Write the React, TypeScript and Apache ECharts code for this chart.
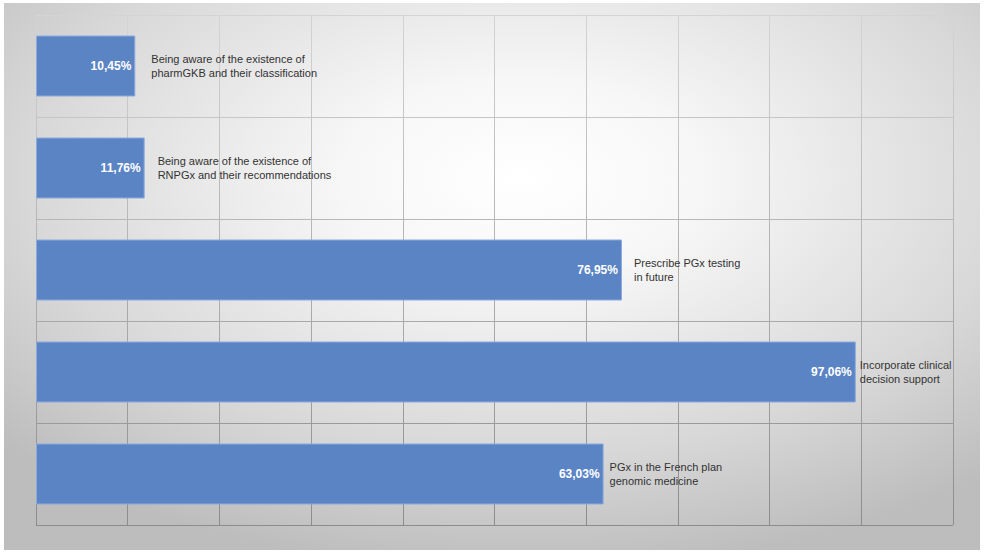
import React, { useEffect, useRef } from "react";
import * as echarts from "echarts";

// Category texts (top to bottom)
const categories = [
  "Being aware of the existence of\npharmGKB and their classification",
  "Being aware of the existence of\nRNPGx and their recommendations",
  "Prescribe PGx testing\nin future",
  "Incorporate clinical\ndecision support",
  "PGx in the French plan\ngenomic medicine",
];
// Printed percentages
const valueLabels = ["10,45%", "11,76%", "76,95%", "97,06%", "63,03%"];
// Bar lengths as drawn on the 0–100 grid of the picture
const barLengths = [10.83, 11.85, 63.9, 89.4, 61.9];
// Gap between bar end and category text (px)
const labelGaps = [16, 13, 12, 4, 6];
// Value-axis ticks
const axisMin = 0;
const axisMax = 100;
const axisStep = 10;

export default function App() {
  const ref = useRef<HTMLDivElement>(null);
  useEffect(() => {
    if (!ref.current) return;
    const chart = echarts.init(ref.current, undefined, { renderer: "svg" });
    const lineGrad = new echarts.graphic.LinearGradient(0, 15, 0, 525, [
      { offset: 0, color: "#d4d4d4" },
      { offset: 1, color: "#8c8c8c" },
    ], true);
    chart.setOption({
      animation: false,
      graphic: [
        {
          type: "rect",
          z: -10,
          silent: true,
          shape: { x: 4, y: 3, width: 976, height: 547 },
          style: {
            fill: new echarts.graphic.RadialGradient(0.53, 0.32, 0.72, [
              { offset: 0, color: "#ffffff" },
              { offset: 0.25, color: "#f7f7f7" },
              { offset: 0.7, color: "#d8d8d8" },
              { offset: 1, color: "#bdbdbd" },
            ]),
          },
        },
      ],
      grid: { left: 36, right: 31, top: 15, bottom: 28, containLabel: false },
      xAxis: {
        type: "value",
        min: axisMin,
        max: axisMax,
        interval: axisStep,
        axisLabel: { show: false },
        axisLine: { show: false },
        axisTick: { show: false },
        splitLine: { show: true, showMinLine: true, showMaxLine: true, lineStyle: { color: lineGrad, width: 1 } },
      },
      yAxis: {
        type: "category",
        inverse: true,
        data: categories,
        axisLabel: { show: false },
        axisLine: { show: false },
        axisTick: { show: false },
        splitLine: { show: true, lineStyle: { color: lineGrad, width: 1 } },
      },
      series: [
        {
          type: "bar",
          barWidth: 61,
          data: barLengths.map((v, i) => ({ value: v, valueLabel: valueLabels[i] })),
          itemStyle: { color: "#5b84c5", borderColor: "#8caade", borderWidth: 1 },
          label: {
            show: true,
            position: "insideRight",
            distance: 4,
            color: "#ffffff",
            fontWeight: "bold",
            fontSize: 12,
            fontFamily: "Liberation Sans, Arial, sans-serif",
            formatter: (p: any) => valueLabels[p.dataIndex],
          },
        },
        {
          type: "bar",
          barWidth: 61,
          barGap: "-100%",
          silent: true,
          data: barLengths.map((v, i) => ({
            value: v,
            label: { distance: labelGaps[i] },
          })),
          itemStyle: { color: "transparent" },
          label: {
            show: true,
            position: "right",
            color: "#333333",
            fontSize: 11,
            lineHeight: 14,
            fontFamily: "Liberation Sans, Arial, sans-serif",
            formatter: (p: any) => categories[p.dataIndex],
          },
        },
      ],
    });
    return () => chart.dispose();
  }, []);
  return (
    <div
      ref={ref}
      style={{ position: "absolute", left: 0, top: 0, width: 984, height: 553, background: "#ffffff" }}
    />
  );
}
